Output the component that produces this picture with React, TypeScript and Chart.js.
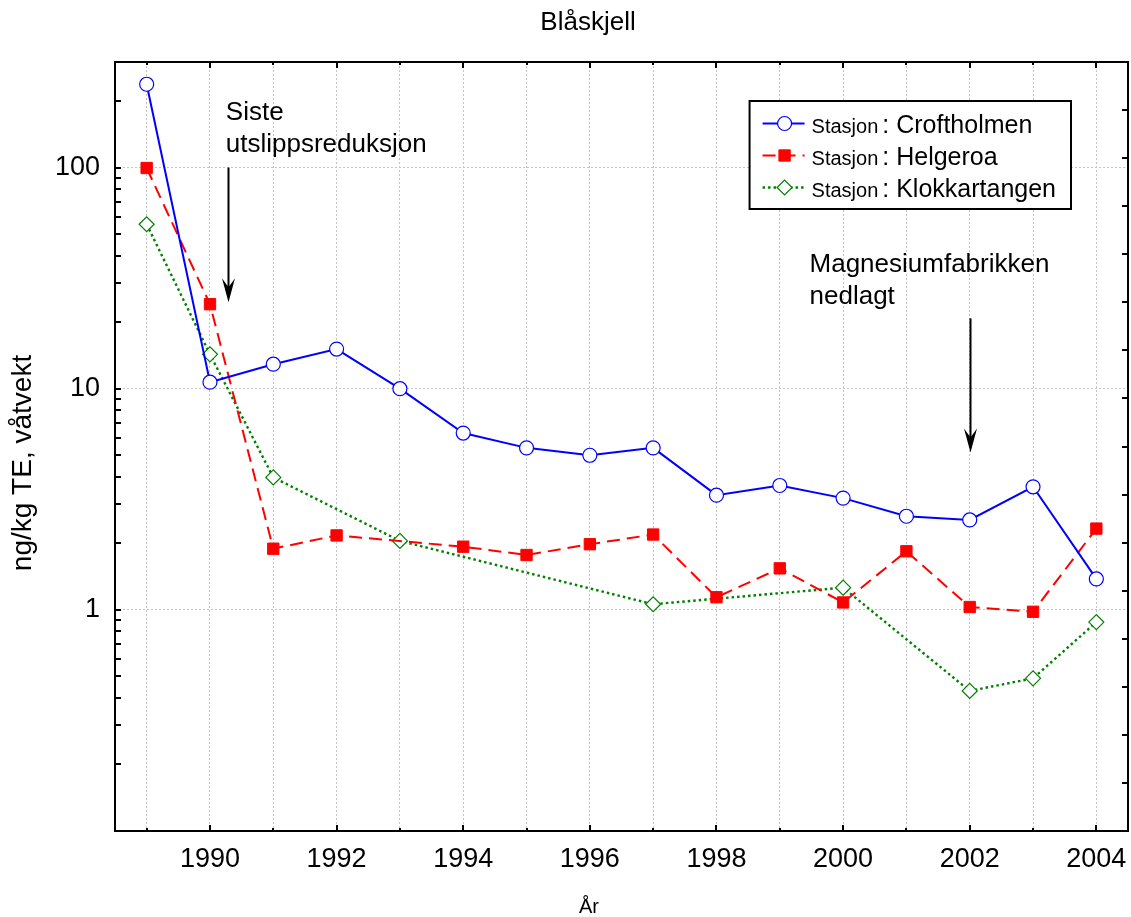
import React, { useEffect, useRef } from 'react';
import { Chart, registerables } from 'chart.js';

Chart.register(...registerables);

// ---------- data ----------
const years = [1989, 1990, 1991, 1992, 1993, 1994, 1995, 1996, 1997, 1998, 1999, 2000, 2001, 2002, 2003, 2004];
const croftholmen = [238, 10.7, 12.9, 15.1, 10.0, 6.3, 5.4, 5.0, 5.4, 3.3, 3.65, 3.2, 2.65, 2.55, 3.6, 1.38];
const helgeroa = [99.5, 24.1, 1.89, 2.17, null, 1.93, 1.77, 1.98, 2.19, 1.14, 1.54, 1.08, 1.84, 1.03, 0.98, 2.33];
const klokkartangen = [55.4, 14.3, 3.97, null, 2.05, null, null, null, 1.06, null, null, 1.26, null, 0.43, 0.49, 0.88];

const seriesNames = ['Croftholmen', 'Helgeroa', 'Klokkartangen'];
const stationPrefix = 'Stasjon';
const chartTitle = 'Blåskjell';
const xTitle = 'År';
const yTitle = 'ng/kg TE, våtvekt';

const yTickValues = [0.2, 0.3, 0.4, 0.5, 0.6, 0.7, 0.8, 0.9, 1, 2, 3, 4, 5, 6, 7, 8, 9, 10, 20, 30, 40, 50, 60, 70, 80, 90, 100, 200];
const yLabelValues = [1, 10, 100];
const xLabelYears = [1990, 1992, 1994, 1996, 1998, 2000, 2002, 2004];
const rightTickDivisions = 16;

const annotations = [
  { lines: ['Siste', 'utslippsreduksjon'], textYear: 1990.25, textValue: 164, arrowYear: 1990.29, arrowFrom: 100, arrowTo: 24.6 },
  { lines: ['Magnesiumfabrikken', 'nedlagt'], textYear: 1999.47, textValue: 33.6, arrowYear: 2002, arrowFrom: 20.8, arrowTo: 5.15 },
];

const FONT = '"Liberation Sans", Arial, Helvetica, sans-serif';

function toPoints(arr: (number | null)[]) {
  return years.map((x, i) => ({ x, y: arr[i] }));
}

function drawMarker(ctx: CanvasRenderingContext2D, style: string, x: number, y: number, r: number, fill: string, stroke: string, lw: number) {
  ctx.save();
  ctx.setLineDash([]);
  ctx.beginPath();
  if (style === 'circle') {
    ctx.arc(x, y, r, 0, Math.PI * 2);
  } else if (style === 'rect') {
    const s = Math.SQRT1_2 * r;
    ctx.rect(x - s, y - s, 2 * s, 2 * s);
  } else {
    ctx.moveTo(x - r, y);
    ctx.lineTo(x, y - r);
    ctx.lineTo(x + r, y);
    ctx.lineTo(x, y + r);
    ctx.closePath();
  }
  ctx.fillStyle = fill;
  ctx.fill();
  ctx.lineWidth = lw;
  ctx.strokeStyle = stroke;
  ctx.stroke();
  ctx.restore();
}

const framePlugin = {
  id: 'frameTicks',
  beforeDatasetsDraw(chart: any) {
    const { ctx, chartArea: a, scales } = chart;
    ctx.save();
    ctx.strokeStyle = '#000';
    ctx.lineWidth = 2;
    ctx.setLineDash([]);
    ctx.strokeRect(a.left, a.top, a.right - a.left, a.bottom - a.top);
    ctx.beginPath();
    for (const t of scales.x.ticks) {
      const px = Math.round(scales.x.getPixelForValue(t.value));
      const len = xLabelYears.includes(t.value) ? 6 : 3;
      ctx.moveTo(px, a.bottom);
      ctx.lineTo(px, a.bottom - len);
      ctx.moveTo(px, a.top);
      ctx.lineTo(px, a.top + len);
    }
    for (const t of scales.y.ticks) {
      const py = Math.round(scales.y.getPixelForValue(t.value));
      ctx.moveTo(a.left, py);
      ctx.lineTo(a.left + 6, py);
    }
    for (let k = 1; k < rightTickDivisions; k++) {
      const py = Math.round(a.bottom - ((a.bottom - a.top) * k) / rightTickDivisions);
      ctx.moveTo(a.right, py);
      ctx.lineTo(a.right - 6, py);
    }
    ctx.stroke();
    ctx.restore();
  },
  afterDraw(chart: any) {
    const { ctx, chartArea: a, scales } = chart;
    ctx.save();
    ctx.fillStyle = '#000';
    // title
    ctx.font = `26px ${FONT}`;
    ctx.textAlign = 'center';
    ctx.textBaseline = 'alphabetic';
    ctx.fillText(chartTitle, 588, 30);
    // x title
    ctx.font = `20px ${FONT}`;
    ctx.fillText(xTitle, 589, 913);
    // y title
    ctx.save();
    ctx.translate(31, 463);
    ctx.rotate(-Math.PI / 2);
    ctx.font = `28px ${FONT}`;
    ctx.fillText(yTitle, 0, 0);
    ctx.restore();

    // annotations
    ctx.textAlign = 'left';
    ctx.font = `26px ${FONT}`;
    for (const an of annotations) {
      const tx = scales.x.getPixelForValue(an.textYear);
      const ty = scales.y.getPixelForValue(an.textValue);
      an.lines.forEach((ln, i) => ctx.fillText(ln, tx, ty + i * 32));
      const ax = Math.round(scales.x.getPixelForValue(an.arrowYear)) + 0.5;
      const y0 = scales.y.getPixelForValue(an.arrowFrom);
      const y1 = scales.y.getPixelForValue(an.arrowTo);
      ctx.strokeStyle = '#000';
      ctx.lineWidth = 2;
      ctx.beginPath();
      ctx.moveTo(ax, y0);
      ctx.lineTo(ax, y1 - 12);
      ctx.stroke();
      ctx.beginPath();
      ctx.moveTo(ax, y1);
      ctx.lineTo(ax - 6.5, y1 - 24);
      ctx.lineTo(ax, y1 - 15);
      ctx.lineTo(ax + 6.5, y1 - 24);
      ctx.closePath();
      ctx.fill();
    }

    // legend
    const ds = chart.data.datasets;
    const bigFont = `25px ${FONT}`;
    const smallFont = `20px ${FONT}`;
    ctx.font = smallFont;
    const prefW = ctx.measureText(stationPrefix).width;
    ctx.font = bigFont;
    let maxW = 0;
    for (const d of ds) maxW = Math.max(maxW, prefW + 4 + ctx.measureText(': ' + d.label).width);
    const boxW = 62 + maxW + 15;
    const boxH = 108;
    const boxR = a.right - 57;
    const boxL = boxR - boxW;
    const boxT = a.top + 39;
    ctx.fillStyle = '#fff';
    ctx.fillRect(boxL, boxT, boxW, boxH);
    ctx.strokeStyle = '#000';
    ctx.lineWidth = 2;
    ctx.strokeRect(boxL, boxT, boxW, boxH);
    ds.forEach((d: any, i: number) => {
      const cy = boxT + 22.5 + i * 32;
      ctx.save();
      ctx.strokeStyle = d.borderColor;
      ctx.lineWidth = d.borderWidth;
      ctx.setLineDash(d.borderDash || []);
      ctx.beginPath();
      ctx.moveTo(boxL + 13, cy);
      ctx.lineTo(boxL + 55, cy);
      ctx.stroke();
      ctx.restore();
      drawMarker(ctx, d.pointStyle, boxL + 35, cy, d.pointRadius, d.pointBackgroundColor, d.pointBorderColor, d.pointBorderWidth);
      ctx.fillStyle = '#000';
      ctx.textAlign = 'left';
      ctx.textBaseline = 'alphabetic';
      ctx.font = smallFont;
      ctx.fillText(stationPrefix, boxL + 62, cy + 9);
      ctx.font = bigFont;
      ctx.fillText(': ' + d.label, boxL + 62 + prefW + 4, cy + 9);
    });
    ctx.restore();
  },
};

export default function App() {
  const ref = useRef<HTMLCanvasElement | null>(null);
  useEffect(() => {
    if (!ref.current) return;
    const chart = new Chart(ref.current, {
      type: 'line',
      data: {
        datasets: [
          {
            label: seriesNames[0],
            data: toPoints(croftholmen),
            borderColor: '#0000ff',
            borderWidth: 2,
            pointStyle: 'circle',
            pointRadius: 7,
            pointBackgroundColor: '#ffffff',
            pointBorderColor: '#0000ff',
            pointBorderWidth: 1.2,
            spanGaps: true,
            tension: 0,
          },
          {
            label: seriesNames[1],
            data: toPoints(helgeroa),
            borderColor: '#ff0000',
            borderWidth: 2,
            borderDash: [13, 7],
            pointStyle: 'rect',
            pointRadius: 8,
            pointBackgroundColor: '#ff0000',
            pointBorderColor: '#ff0000',
            pointBorderWidth: 1,
            spanGaps: true,
            tension: 0,
          },
          {
            label: seriesNames[2],
            data: toPoints(klokkartangen),
            borderColor: '#008000',
            borderWidth: 2.4,
            borderDash: [2.5, 3],
            pointStyle: 'rectRot',
            pointRadius: 7.5,
            pointBackgroundColor: '#ffffff',
            pointBorderColor: '#008000',
            pointBorderWidth: 1.2,
            spanGaps: true,
            tension: 0,
          },
        ] as any,
      },
      options: {
        animation: false,
        responsive: false,
        layout: { autoPadding: false, padding: { top: 62, right: 3, left: 0, bottom: 0 } },
        plugins: {
          legend: { display: false },
          title: { display: false },
          tooltip: { enabled: false },
        },
        scales: {
          x: {
            type: 'linear',
            min: 1988.5,
            max: 2004.5,
            afterBuildTicks: (scale: any) => {
              scale.ticks = years.map((v) => ({ value: v }));
            },
            afterFit: (scale: any) => {
              scale.height = 86;
              scale.paddingLeft = 0;
              scale.paddingRight = 0;
            },
            ticks: {
              autoSkip: false,
              maxRotation: 0,
              padding: 12,
              color: '#000',
              font: { family: FONT, size: 27 },
              callback: (v: any) => (xLabelYears.includes(Number(v)) ? String(v) : ''),
            },
            grid: {
              drawTicks: false,
              color: '#c4c4c4',
              lineWidth: 1,
            },
            border: { display: false, dash: [2, 2] },
          },
          y: {
            type: 'logarithmic',
            min: 0.1,
            max: 300,
            afterBuildTicks: (scale: any) => {
              scale.ticks = yTickValues.map((v) => ({ value: v }));
            },
            afterFit: (scale: any) => {
              scale.width = 115;
              scale.paddingTop = 0;
              scale.paddingBottom = 0;
            },
            ticks: {
              autoSkip: false,
              padding: 15,
              color: '#000',
              font: { family: FONT, size: 27 },
              callback: (v: any) => (yLabelValues.includes(Number(v)) ? String(v) : ''),
            },
            grid: {
              drawTicks: false,
              color: (c: any) => (c.tick && yLabelValues.includes(c.tick.value) ? '#c4c4c4' : 'rgba(0,0,0,0)'),
              lineWidth: 1,
            },
            border: { display: false, dash: [2, 2] },
          },
        } as any,
      },
      plugins: [framePlugin],
    });
    return () => chart.destroy();
  }, []);
  return (
    <div style={{ position: 'absolute', left: 0, top: 0, width: 1131, height: 917, background: '#fff' }}>
      <canvas ref={ref} width={1131} height={917} style={{ display: 'block' }} />
    </div>
  );
}
